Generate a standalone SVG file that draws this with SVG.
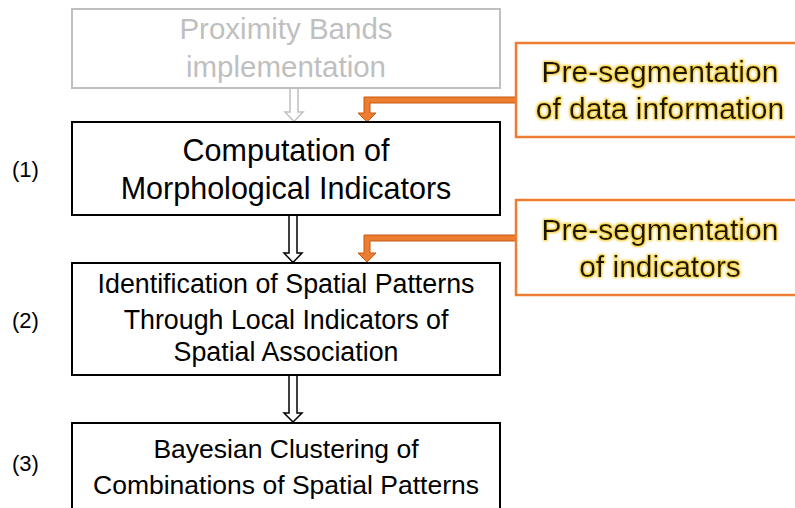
<svg xmlns="http://www.w3.org/2000/svg" width="795" height="508" viewBox="0 0 795 508">
<defs>
<style>
.box{fill:#fff;stroke:#000;stroke-width:2}
.gbox{fill:#fff;stroke:#bfbfbf;stroke-width:2}
.obox{fill:#fff;stroke:#ED7D31;stroke-width:2.5}
.t{font-family:"Liberation Sans",Arial,sans-serif;text-anchor:middle;fill:#000}
.g{fill:#bfbfbf}
.o{fill:#1a1400;filter:url(#glow)}
.lbl{font-family:"Liberation Sans",Arial,sans-serif;font-size:22px;fill:#000}
.harrow{fill:#fff;stroke:#000;stroke-width:1.5;stroke-linejoin:miter}
.garrow{fill:#fff;stroke:#bfbfbf;stroke-width:1.5}
.oarrow{fill:#ED7D31;stroke:#C55A11;stroke-width:1}
</style>
<filter id="glow" x="-10%" y="-30%" width="120%" height="160%">
<feMorphology in="SourceAlpha" operator="dilate" radius="0.7" result="d"/>
<feGaussianBlur in="d" stdDeviation="1" result="b"/>
<feFlood flood-color="#F2C200" flood-opacity="0.85"/>
<feComposite in2="b" operator="in" result="gl"/>
<feMerge><feMergeNode in="gl"/><feMergeNode in="SourceGraphic"/></feMerge>
</filter>
</defs>
<g id="connectors">
<polygon class="garrow" points="290,88 298,88 298,112 303,112 294,121.5 285,112 290,112"/>
<polygon class="harrow" points="289,215 297,215 297,253 302,253 293,262.5 284,253 289,253"/>
<polygon class="harrow" points="289,375 297,375 297,413 302,413 293,422 284,413 289,413"/>
<polygon class="oarrow" points="516,97 364,97 364,113 358,113 367,122 376,113 370,113 370,103 516,103"/>
<polygon class="oarrow" points="516,235 364,235 364,253 358,253 367,262 376,253 370,253 370,241 516,241"/>
</g>
<g id="proximity">
<rect class="gbox" x="72" y="9" width="428" height="79"/>
<text class="t g" font-size="29.5" x="286" y="39">Proximity Bands</text>
<text class="t g" font-size="29.5" x="286" y="77">implementation</text>
</g>
<g id="step1">
<rect class="box" x="72" y="122" width="428" height="93"/>
<text class="t" font-size="30.5" x="286" y="161">Computation of</text>
<text class="t" font-size="30.5" x="286" y="199">Morphological Indicators</text>
</g>
<g id="step2">
<rect class="box" x="72" y="263" width="428" height="112"/>
<text class="t" font-size="26.8" x="286" y="293">Identification of Spatial Patterns</text>
<text class="t" font-size="26.8" x="286" y="329">Through Local Indicators of</text>
<text class="t" font-size="26.8" x="286" y="361">Spatial Association</text>
</g>
<g id="step3">
<rect class="box" x="72" y="423" width="428" height="95"/>
<text class="t" font-size="26.5" x="286" y="458">Bayesian Clustering of</text>
<text class="t" font-size="26.5" x="286" y="494">Combinations of Spatial Patterns</text>
</g>
<g id="preseg1">
<rect class="obox" x="516" y="43" width="290" height="94"/>
<text class="t o" font-size="30" x="660" y="82">Pre-segmentation</text>
<text class="t o" font-size="30" x="660" y="119">of data information</text>
</g>
<g id="preseg2">
<rect class="obox" x="516" y="200" width="290" height="95"/>
<text class="t o" font-size="30" x="660" y="240">Pre-segmentation</text>
<text class="t o" font-size="30" x="660" y="277">of indicators</text>
</g>
<g id="labels">
<text class="lbl" x="12" y="177">(1)</text>
<text class="lbl" x="12" y="328">(2)</text>
<text class="lbl" x="12" y="471">(3)</text>
</g>
</svg>
